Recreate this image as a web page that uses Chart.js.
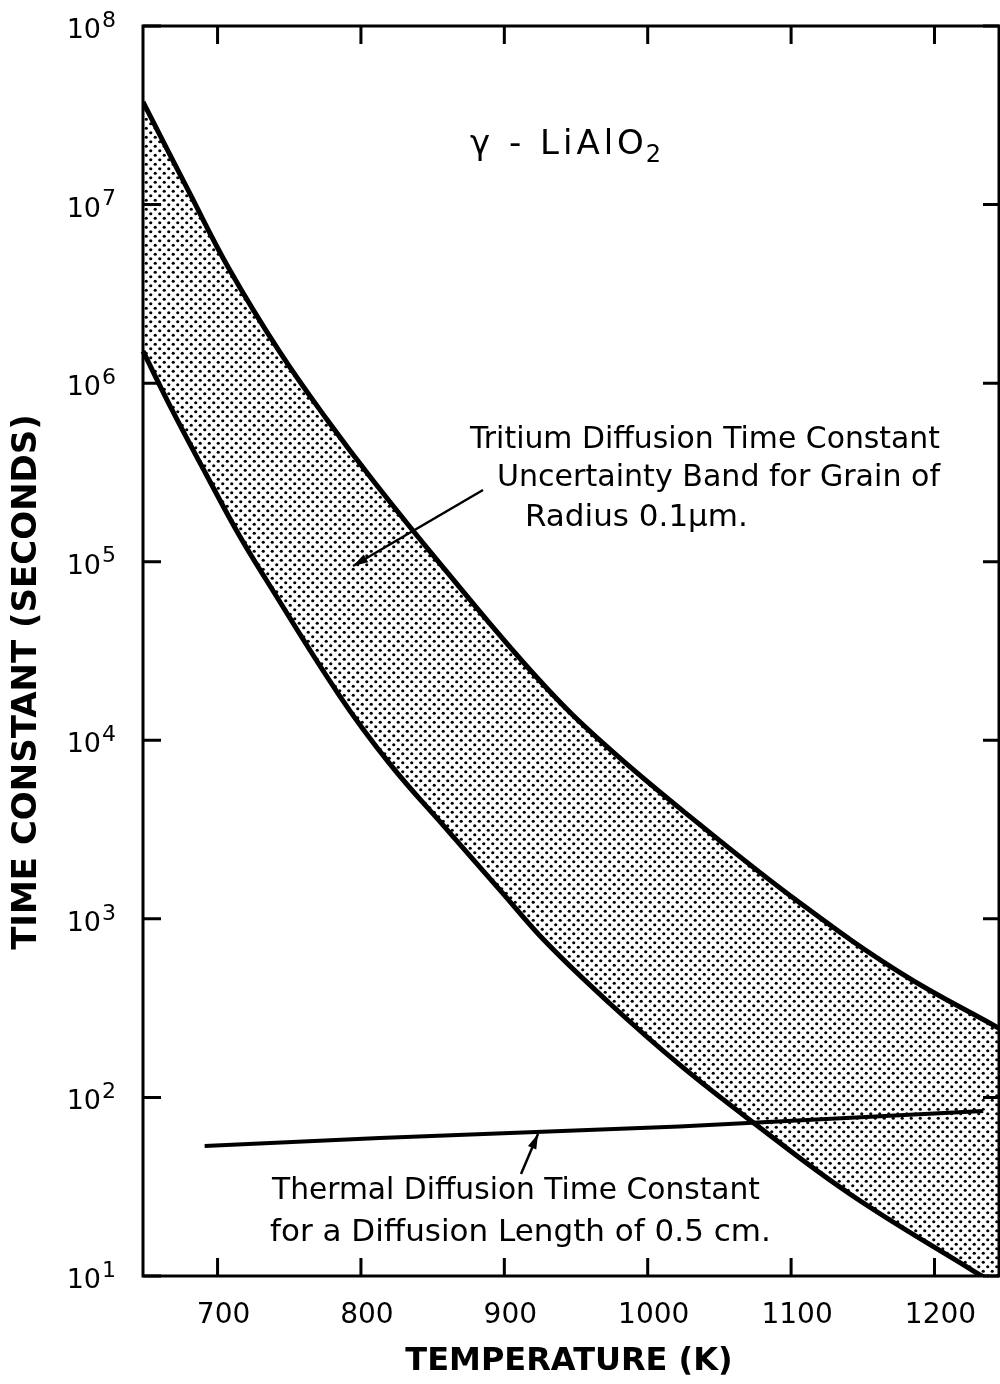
<!DOCTYPE html>
<html>
<head>
<meta charset="utf-8">
<script src="https://cdn.jsdelivr.net/npm/chart.js@4.4.0/dist/chart.umd.min.js"></script>
<style>
  html, body { margin: 0; padding: 0; background: #fff; }
  #chart { display: block; }
</style>
</head>
<body>
<canvas id="chart" width="1000" height="1384"></canvas>
<script>
// values: temperature (K) -> time constant (s)
const upperTemp = [648, 680, 708, 743, 776, 808, 855, 924, 971, 1036, 1106, 1176, 1245];
const upperTime = [3.76e7, 1.18e7, 4.37e6, 1.51e6, 6.3e5, 2.88e5, 9.8e4, 2.19e4, 9.3e3, 3.39e3, 1.23e3, 500, 244];

const lowerTemp = [648, 669, 692, 715, 734, 785, 820, 860, 897, 929, 973, 1022, 1071, 1141, 1227, 1245];
const lowerTime = [1.51e6, 6.9e5, 3.09e5, 1.41e5, 7.9e4, 1.78e4, 7.4e3, 3.16e3, 1.45e3, 741, 339, 153, 75, 28.8, 10.7, 8.8];

const thermalTemp = [691, 813, 1022, 1234];
const thermalTime = [53.5, 59.3, 68.7, 84];

const xTicks = [700, 800, 900, 1000, 1100, 1200];
const yTicks = [1e1, 1e2, 1e3, 1e4, 1e5, 1e6, 1e7, 1e8];
const yExponents = ["1", "2", "3", "4", "5", "6", "7", "8"];

const FONT = '"DejaVu Sans", sans-serif';

function toPoints(xs, ys) {
  return xs.map((x, i) => ({ x: x, y: ys[i] }));
}

// stippled fill for the uncertainty band
function dotPattern() {
  const c = document.createElement("canvas");
  c.width = 9;
  c.height = 9;
  const g = c.getContext("2d");
  g.fillStyle = "#000";
  [[2.25, 2.25], [6.75, 6.75]].forEach(p => {
    g.beginPath();
    g.arc(p[0], p[1], 1.6, 0, Math.PI * 2);
    g.fill();
  });
  return document.getElementById("chart").getContext("2d").createPattern(c, "repeat");
}

function arrow(ctx, x1, y1, x2, y2) {
  ctx.beginPath();
  ctx.moveTo(x1, y1);
  ctx.lineTo(x2, y2);
  ctx.stroke();
  const a = Math.atan2(y2 - y1, x2 - x1);
  const len = 15, w = 4.5;
  ctx.beginPath();
  ctx.moveTo(x2, y2);
  ctx.lineTo(x2 - len * Math.cos(a) + w * Math.sin(a), y2 - len * Math.sin(a) - w * Math.cos(a));
  ctx.lineTo(x2 - len * Math.cos(a) - w * Math.sin(a), y2 - len * Math.sin(a) + w * Math.cos(a));
  ctx.closePath();
  ctx.fill();
}

const decorations = {
  id: "decorations",
  afterDraw(chart) {
    const ctx = chart.ctx;
    const area = chart.chartArea;
    const xs = chart.scales.x;
    const ys = chart.scales.y;
    ctx.save();
    ctx.strokeStyle = "#000";
    ctx.fillStyle = "#000";

    // frame
    ctx.lineWidth = 3;
    ctx.strokeRect(area.left, area.top, area.right - area.left, area.bottom - area.top);

    // inward ticks
    xTicks.forEach(v => {
      const px = xs.getPixelForValue(v);
      ctx.beginPath();
      ctx.moveTo(px, area.bottom);
      ctx.lineTo(px, area.bottom - 18);
      ctx.moveTo(px, area.top);
      ctx.lineTo(px, area.top + 18);
      ctx.stroke();
    });
    yTicks.forEach(v => {
      const py = ys.getPixelForValue(v);
      ctx.beginPath();
      ctx.moveTo(area.left, py);
      ctx.lineTo(area.left + 18, py);
      ctx.moveTo(area.right, py);
      ctx.lineTo(area.right - 16, py);
      ctx.stroke();
    });

    // y tick labels: 10 with exponent
    yTicks.forEach((v, i) => {
      const py = ys.getPixelForValue(v);
      ctx.textBaseline = "middle";
      ctx.textAlign = "right";
      ctx.font = "27px " + FONT;
      ctx.fillText("10", 101, py + 5);
      ctx.textAlign = "left";
      ctx.font = "22px " + FONT;
      ctx.fillText(yExponents[i], 102, py - 5);
    });

    // axis titles
    ctx.font = "bold 32px " + FONT;
    ctx.textAlign = "center";
    ctx.textBaseline = "middle";
    ctx.fillText("TEMPERATURE (K)", 569, 1362, 334);
    ctx.save();
    ctx.translate(27, 682);
    ctx.rotate(-Math.PI / 2);
    ctx.font = "bold 34px " + FONT;
    ctx.fillText("TIME CONSTANT (SECONDS)", 0, 0, 546);
    ctx.restore();

    // compound label
    ctx.textAlign = "left";
    ctx.font = "34px " + FONT;
    ctx.letterSpacing = "4px";
    ctx.fillText("\u03b3 - LiAlO", 470, 145);
    const w = ctx.measureText("\u03b3 - LiAlO").width;
    ctx.letterSpacing = "0px";
    ctx.font = "24px " + FONT;
    ctx.fillText("2", 470 + w - 2, 156);

    // band annotation
    ctx.font = "31px " + FONT;
    ctx.fillText("Tritium Diffusion Time Constant", 470, 440, 470);
    ctx.fillText("Uncertainty Band for Grain of", 497, 478, 443);
    ctx.fillText("Radius 0.1\u03bcm.", 525, 518, 225);
    ctx.lineWidth = 2.5;
    arrow(ctx, 483, 490, 353, 566);

    // thermal annotation
    ctx.fillText("Thermal Diffusion Time Constant", 272, 1191, 488);
    ctx.fillText("for a Diffusion Length of 0.5 cm.", 270, 1233, 505);
    arrow(ctx, 521, 1174, 538, 1134);

    ctx.restore();
  }
};

const chart = new Chart(document.getElementById("chart"), {
  type: "line",
  data: {
    datasets: [
      {
        label: "Tritium upper",
        data: toPoints(upperTemp, upperTime),
        borderColor: "#000",
        borderWidth: 5,
        pointRadius: 0,
        tension: 0.4,
        fill: "+1",
        backgroundColor: dotPattern()
      },
      {
        label: "Tritium lower",
        data: toPoints(lowerTemp, lowerTime),
        borderColor: "#000",
        borderWidth: 5,
        pointRadius: 0,
        tension: 0.4,
        fill: false,
        clip: { left: 5, top: 5, right: 5, bottom: 0 }
      },
      {
        label: "Thermal",
        data: toPoints(thermalTemp, thermalTime),
        borderColor: "#000",
        borderWidth: 4,
        pointRadius: 0,
        tension: 0,
        fill: false
      }
    ]
  },
  options: {
    responsive: false,
    animation: false,
    events: [],
    layout: { padding: { top: 26, right: 1, left: 0, bottom: 0 } },
    plugins: {
      legend: { display: false },
      tooltip: { enabled: false }
    },
    scales: {
      x: {
        type: "linear",
        min: 648,
        max: 1245,
        afterBuildTicks: scale => { scale.ticks = xTicks.map(v => ({ value: v })); },
        afterFit: scale => { scale.height = 108; },
        grid: { display: false },
        border: { display: false },
        ticks: {
          color: "#000",
          font: { family: FONT, size: 28 },
          padding: 15,
          labelOffset: 6,
          maxRotation: 0,
          callback: v => String(v)
        }
      },
      y: {
        type: "logarithmic",
        min: 10,
        max: 1e8,
        afterBuildTicks: scale => { scale.ticks = yTicks.map(v => ({ value: v })); },
        afterFit: scale => { scale.width = 143; },
        grid: { display: false },
        border: { display: false },
        ticks: { display: false }
      }
    }
  },
  plugins: [decorations]
});
</script>
</body>
</html>
